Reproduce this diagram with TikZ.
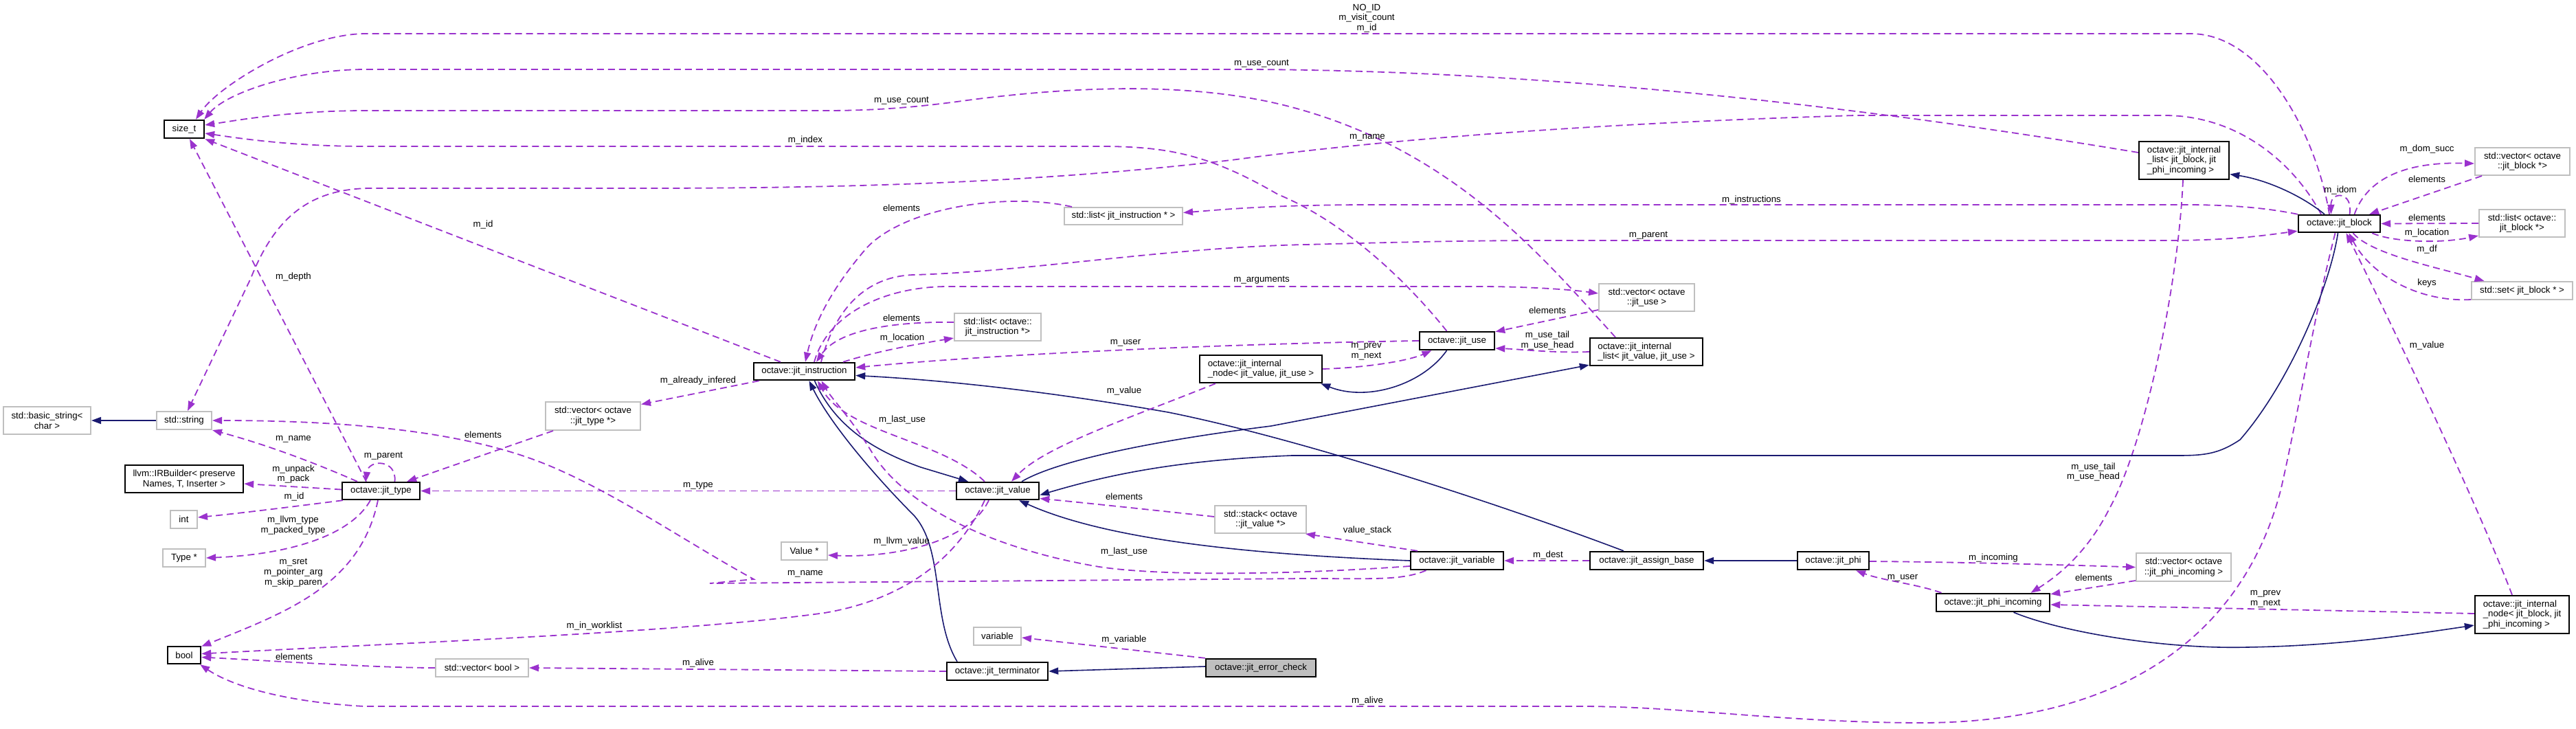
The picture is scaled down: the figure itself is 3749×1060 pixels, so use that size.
\documentclass[tikz,border=0pt]{standalone}
\usepackage{fontspec}
\setmainfont{Liberation Sans}
\usetikzlibrary{arrows.meta}
\definecolor{purp}{HTML}{9A32CD}
\definecolor{navyc}{HTML}{191970}
\definecolor{grayb}{HTML}{BFBFBF}
\newcommand{\dgfont}{\fontsize{13.3pt}{14.6pt}\selectfont}
\begin{document}
\begin{tikzpicture}[x=1pt,y=-1pt,
  bk/.style={draw=black, line width=2.4pt, fill=white, inner sep=0pt, align=center, font=\dgfont},
  gr/.style={bk, draw=grayb, line width=2pt},
  lbl/.style={inner sep=0pt, align=center, font=\dgfont},
  dep/.style={draw=purp, line width=1.8pt, dash pattern=on 10pt off 6pt, -{Triangle[length=14pt,width=10pt]}},
  inh/.style={draw=navyc, line width=1.6pt, -{Triangle[length=14pt,width=10pt]}}]
\useasboundingbox (0,0) rectangle (3749,1060);

% nodes
\node[bk,minimum width=58pt,minimum height=26pt] (sizet) at (268,188) {size\_t};
\node[gr,minimum width=127pt,minimum height=40pt] (bstr) at (68.5,612) {std::basic\_string<\\char >};
\node[gr,minimum width=80pt,minimum height=26pt] (str) at (268,612) {std::string};
\node[bk,minimum width=172pt,minimum height=40pt] (irb) at (268,697) {llvm::IRBuilder< preserve\\Names, T, Inserter >};
\node[gr,minimum width=138pt,minimum height=41pt] (vtype) at (863,605.5) {std::vector< octave\\::jit\_type *>};
\node[bk,minimum width=113pt,minimum height=25pt] (jtype) at (554.5,714.5) {octave::jit\_type};
\node[gr,minimum width=39pt,minimum height=26pt] (int) at (267.5,756) {int};
\node[gr,minimum width=62pt,minimum height=26pt] (typep) at (268,812) {Type *};
\node[bk,minimum width=48pt,minimum height=25pt] (bool) at (268,953.5) {bool};
\node[gr,minimum width=135pt,minimum height=26pt] (vbool) at (701.5,972) {std::vector< bool >};
\node[bk,minimum width=147pt,minimum height=25pt] (jinst) at (1170.5,540.5) {octave::jit\_instruction};
\node[gr,minimum width=126pt,minimum height=40pt] (loinst) at (1452,476) {std::list< octave::\\jit\_instruction *>};
\node[gr,minimum width=172pt,minimum height=25pt] (linst) at (1635,314.5) {std::list< jit\_instruction * >};
\node[bk,minimum width=120pt,minimum height=25pt] (jval) at (1452,714.5) {octave::jit\_value};
\node[bk,align=left,minimum width=178pt,minimum height=40pt] (nvu) at (1835,537) {octave::jit\_internal\\\_node< jit\_value, jit\_use >};
\node[gr,minimum width=139pt,minimum height=40pt] (vuse) at (2396.5,433) {std::vector< octave\\::jit\_use >};
\node[bk,minimum width=109pt,minimum height=26pt] (juse) at (2120.5,496) {octave::jit\_use};
\node[bk,align=left,minimum width=164pt,minimum height=40pt] (lvu) at (2396,512) {octave::jit\_internal\\\_list< jit\_value, jit\_use >};
\node[gr,minimum width=67pt,minimum height=26pt] (valp) at (1170.5,802) {Value *};
\node[gr,minimum width=133pt,minimum height=40pt] (stack) at (1834.5,756) {std::stack< octave\\::jit\_value *>};
\node[gr,minimum width=69pt,minimum height=26pt] (var) at (1451.5,926) {variable};
\node[bk,minimum width=147pt,minimum height=26pt] (term) at (1451.5,977) {octave::jit\_terminator};
\node[bk,fill=grayb,minimum width=160pt,minimum height=26pt] (echk) at (1835,972) {octave::jit\_error\_check};
\node[bk,minimum width=135pt,minimum height=26pt] (jvar) at (2120.5,816) {octave::jit\_variable};
\node[bk,minimum width=165pt,minimum height=26pt] (asg) at (2396.5,816) {octave::jit\_assign\_base};
\node[bk,minimum width=104pt,minimum height=26pt] (phi) at (2668,816) {octave::jit\_phi};
\node[gr,minimum width=138pt,minimum height=41pt] (vphi) at (3178,825.5) {std::vector< octave\\::jit\_phi\_incoming >};
\node[bk,minimum width=165pt,minimum height=26pt] (phin) at (2900.5,877) {octave::jit\_phi\_incoming};
\node[bk,align=left,minimum width=137pt,minimum height=55pt] (nbp) at (3670.5,894.5) {octave::jit\_internal\\\_node< jit\_block, jit\\\_phi\_incoming >};
\node[bk,align=left,minimum width=131pt,minimum height=55pt] (lbp) at (3178.5,233.5) {octave::jit\_internal\\\_list< jit\_block, jit\\\_phi\_incoming >};
\node[bk,minimum width=119pt,minimum height=25pt] (jblk) at (3404.5,325.5) {octave::jit\_block};
\node[gr,minimum width=138pt,minimum height=40pt] (vblk) at (3671,235) {std::vector< octave\\::jit\_block *>};
\node[gr,minimum width=125pt,minimum height=40pt] (lblk) at (3670.5,325) {std::list< octave::\\jit\_block *>};
\node[gr,minimum width=147pt,minimum height=26pt] (sblk) at (3670.5,423) {std::set< jit\_block * >};

% connectors
\draw[inh] (str.west) -- (bstr.east);
\draw[dep] ([xshift=-14.5pt]jblk.north) .. controls (3372,200) and (3295,49) .. (3188,49) -- (533,49) .. controls (440,49) and (318,125) .. ([xshift=17pt]sizet.north);
\draw[dep] ([yshift=11.5pt]lbp.west) .. controls (2800,170) and (2300,101) .. (1800,101) -- (533,101) .. controls (430,101) and (330,135) .. ([xshift=-1pt]sizet.north east);
\draw[dep] ([xshift=-45pt]lvu.north) .. controls (2250,380) and (2120,220) .. (1880,156) .. controls (1760,124) and (1600,120) .. (1400,147) .. controls (1320,158) and (1260,161) .. (1200,161) -- (533,161) .. controls (420,161) and (340,176) .. ([yshift=6pt]sizet.east);
\draw[dep] ([xshift=-15pt]juse.north) .. controls (2040,400) and (1950,320) .. (1860,283) .. controls (1760,225) and (1700,213) .. (1600,213) -- (533,213) .. controls (420,213) and (340,200) .. ([yshift=-6pt]sizet.east);
\draw[dep] ([xshift=-34.5pt]jinst.north) -- (sizet.south east);
\draw[dep] ([xshift=-21.5pt]jtype.north) -- ([xshift=8pt]sizet.south);
\draw[dep] ([xshift=-26.5pt]jblk.north) .. controls (3340,240) and (3260,168) .. (3150,168) -- (2700,168) .. controls (2300,180) and (2000,205) .. (1800,232) .. controls (1500,268) and (1200,274) .. (930,274) -- (540,274) .. controls (440,274) and (395,330) .. (365,405) -- ([xshift=5pt]str.north);
\draw[dep] ([xshift=-34.5pt]jtype.north) .. controls (450,670) and (380,645) .. (str.south east);
\draw[dep] ([xshift=20pt]jtype.north) .. controls (578,668) and (536,668) .. ([xshift=-22pt]jtype.north);
\draw[dep] ([yshift=2pt]jtype.west) -- ([yshift=-7pt]irb.east);
\draw[dep] ([xshift=2pt]jtype.south west) .. controls (430,737) and (340,748) .. ([yshift=3pt]int.east);
\draw[dep] ([xshift=-15.5pt]jtype.south) .. controls (510,780) and (420,807) .. (typep.east);
\draw[dep] ([xshift=-4.5pt]jtype.south) .. controls (525,850) and (420,890) .. ([yshift=-1pt]bool.north east);
\draw[dep] ([xshift=12pt]vtype.south west) -- ([xshift=-20pt]jtype.north east);
\draw[dep] (jval.west) -- (jtype.east);
\draw[dep] ([xshift=-45pt]jvar.south) .. controls (2040,845) and (2000,842) .. (1900,842) -- (1033,849) -- (1097,843) .. controls (1000,790) and (900,720) .. (800,678) .. controls (700,636) and (550,612) .. (str.east);
\draw[dep] ([xshift=9pt]jinst.south west) -- ([yshift=17pt]vtype.east);
\draw[dep] ([xshift=56.5pt]jinst.north) .. controls (1280,510) and (1340,500) .. ([yshift=-16pt]loinst.west);
\draw[dep] ([yshift=7pt]loinst.west) .. controls (1300,468) and (1220,480) .. ([xshift=17.5pt]jinst.north);
\draw[dep] ([xshift=12pt]linst.north west) .. controls (1470,280) and (1320,300) .. (1262,360) .. controls (1210,420) and (1185,470) .. ([xshift=1.5pt]jinst.north);
\draw[dep] (jblk.north west) .. controls (3300,303) and (3250,298) .. (3180,298) -- (2000,298) .. controls (1850,298) and (1780,305) .. ([yshift=5pt]linst.east);
\draw[dep] ([xshift=24.5pt]jinst.north) .. controls (1215,450) and (1260,402) .. (1330,400) .. controls (1500,395) and (1700,360) .. (1900,356) .. controls (2050,352) and (2150,350) .. (2250,350) -- (3150,350) .. controls (3250,350) and (3300,342) .. ([yshift=3pt]jblk.south west);
\draw[dep] ([xshift=14.5pt]jinst.north) .. controls (1205,455) and (1290,417) .. (1380,417) -- (2150,417) .. controls (2230,417) and (2290,422) .. ([yshift=6pt]vuse.west);
\draw[dep] (juse.west) .. controls (1800,500) and (1450,515) .. ([yshift=5.5pt]jinst.east);
\draw[dep] (nvu.east) .. controls (1990,535) and (2050,525) .. ([xshift=-37pt]juse.south);
\draw[inh] ([xshift=-15pt]juse.south) .. controls (2070,560) and (1990,585) .. ([xshift=-3pt]nvu.south east);
\draw[dep] ([yshift=3pt]vuse.south west) -- ([yshift=-1pt]juse.north east);
\draw[dep] (lvu.west) .. controls (2260,514) and (2210,508) .. ([yshift=-11pt]juse.east);
\draw[inh] ([xshift=35pt]jval.north) .. controls (1530,675) and (1650,645) .. (1850,620) -- ([yshift=2pt]lvu.south west);
\draw[inh] ([xshift=15pt]jinst.south) .. controls (1215,620) and (1270,655) .. (1340,680) -- ([xshift=-43pt]jval.north);
\draw[inh] ([xshift=-58.5pt]term.north) .. controls (1355,900) and (1375,800) .. (1330,750) .. controls (1280,700) and (1210,620) .. ([xshift=7pt]jinst.south);
\draw[inh] ([xshift=-33.5pt]asg.north) .. controls (2200,740) and (1900,640) .. (1700,600) .. controls (1500,565) and (1350,552) .. ([yshift=-6pt]jinst.east);
\draw[inh] (jvar.west) .. controls (1850,808) and (1620,790) .. ([xshift=31pt]jval.south);
\draw[dep] ([xshift=-19pt]jval.north) .. controls (1370,640) and (1230,630) .. ([xshift=19.5pt]jinst.south);
\draw[dep] ([yshift=-8pt]jvar.west) .. controls (1900,835) and (1700,840) .. (1600,825) .. controls (1450,800) and (1320,740) .. (1270,660) .. controls (1240,610) and (1210,580) .. ([xshift=25pt]jinst.south);
\draw[dep] ([xshift=-66pt]nvu.south) .. controls (1640,610) and (1520,650) .. ([xshift=20pt]jval.north);
\draw[dep] ([yshift=4pt]stack.west) .. controls (1657,740) and (1560,730) .. ([yshift=-11pt]jval.east);
\draw[dep] ([xshift=-57.5pt]jvar.north) -- ([xshift=-2pt]stack.south east);
\draw[dep] (asg.west) -- (jvar.east);
\draw[dep] ([xshift=-13pt]jval.south) .. controls (1410,790) and (1300,812) .. ([yshift=-6pt]valp.east);
\draw[dep] ([xshift=-19pt]jval.south) .. controls (1400,800) and (1330,870) .. (1200,892) .. controls (1000,920) and (600,935) .. ([yshift=2pt]bool.east);
\draw[dep] (vbool.west) .. controls (550,972) and (400,962) .. ([yshift=-3pt]bool.east);
\draw[dep] (term.west) -- (vbool.east);
\draw[dep] ([xshift=-6pt]jblk.south) .. controls (3370,450) and (3345,600) .. (3320,710) .. controls (3280,870) and (3150,1050) .. (2800,1052) .. controls (2600,1052) and (2450,1028) .. (2300,1028) -- (530,1028) .. controls (420,1022) and (340,1000) .. ([xshift=-2pt]bool.south east);
\draw[dep] (echk.north west) -- ([yshift=-2pt]var.east);
\draw[inh] ([yshift=2pt]echk.west) -- (term.east);
\draw[dep] ([xshift=-1.5pt]lbp.south) .. controls (3170,420) and (3120,650) .. (3070,740) .. controls (3040,800) and (3000,835) .. ([xshift=55pt]phin.north);
\draw[dep] ([yshift=-1pt]phi.east) .. controls (2850,818) and (3000,822) .. (vphi.west);
\draw[dep] ([yshift=2pt]vphi.south west) -- ([yshift=-2pt]phin.north east);
\draw[dep] ([xshift=-75pt]phin.north) .. controls (2790,850) and (2740,845) .. ([xshift=33pt]phi.south);
\draw[dep] ([yshift=1.5pt]nbp.west) -- ([yshift=-3pt]phin.east);
\draw[inh] ([xshift=30pt]phin.south) .. controls (3000,920) and (3150,945) .. (3270,942) .. controls (3400,940) and (3500,925) .. ([yshift=-15.5pt]nbp.west);
\draw[dep] ([xshift=-14.5pt]nbp.north) .. controls (3600,720) and (3470,450) .. ([xshift=10pt]jblk.south);
\draw[inh] ([xshift=-21.5pt]jblk.north) .. controls (3350,285) and (3300,262) .. ([yshift=-20pt]lbp.east);
\draw[inh] (phi.west) -- (asg.east);
\draw[inh] ([xshift=-2pt]jblk.south) .. controls (3390,420) and (3330,560) .. (3260,640) .. controls (3230,660) and (3210,663) .. (3170,663) -- (1880,663) .. controls (1700,670) and (1600,695) .. ([yshift=-6pt]jval.east);
\draw[dep] ([xshift=15pt]jblk.north) .. controls (3425,278) and (3392,278) .. ([xshift=-12pt]jblk.north);
\draw[dep] ([xshift=22pt]jblk.north) .. controls (3445,260) and (3500,235) .. ([yshift=-3pt]vblk.west);
\draw[dep] ([xshift=11pt]vblk.south west) -- ([xshift=-17pt]jblk.north east);
\draw[dep] (lblk.west) -- (jblk.east);
\draw[dep] ([xshift=-13pt]jblk.south east) .. controls (3480,352) and (3550,355) .. ([yshift=-18pt]lblk.west);
\draw[dep] ([xshift=20pt]jblk.south) .. controls (3450,370) and (3550,390) .. ([xshift=-55pt]sblk.north);
\draw[dep] ([yshift=-13pt]sblk.west) .. controls (3520,440) and (3450,400) .. ([xshift=14pt]jblk.south);

% labels
\node[lbl] (l1) at (1989,26.5) {NO\_ID\\m\_visit\_count\\m\_id};
\node[lbl] (l2) at (1836,93) {m\_use\_count};
\node[lbl] (l3) at (1312,147) {m\_use\_count};
\node[lbl] (l4) at (1172,204) {m\_index};
\node[lbl] (l5) at (703,327) {m\_id};
\node[lbl] (l6) at (427,403) {m\_depth};
\node[lbl] (l7) at (1990,200) {m\_name};
\node[lbl] (l8) at (1312,303) {elements};
\node[lbl] (l9) at (2549,291) {m\_instructions};
\node[lbl] (l10) at (2399,343) {m\_parent};
\node[lbl] (l11) at (1836,408) {m\_arguments};
\node[lbl] (l12) at (1312,463) {elements};
\node[lbl] (l13) at (1313,492) {m\_location};
\node[lbl] (l14) at (1638,499) {m\_user};
\node[lbl] (l15) at (1016,554) {m\_already\_infered};
\node[lbl] (l16) at (1636,569) {m\_value};
\node[lbl] (l17) at (1313,611) {m\_last\_use};
\node[lbl] (l18) at (1016,707) {m\_type};
\node[lbl] (l19) at (2252,452) {elements};
\node[lbl] (l20) at (2252,495.5) {m\_use\_tail\\m\_use\_head};
\node[lbl] (l21) at (1988.5,511.5) {m\_prev\\m\_next};
\node[lbl] (l22) at (427,639) {m\_name};
\node[lbl] (l23) at (558,664) {m\_parent};
\node[lbl] (l24) at (427,690) {m\_unpack\\m\_pack};
\node[lbl] (l25) at (703,633) {elements};
\node[lbl] (l26) at (428,723) {m\_id};
\node[lbl] (l27) at (426.5,764.5) {m\_llvm\_type\\m\_packed\_type};
\node[lbl] (l28) at (427,833.5) {m\_sret\\m\_pointer\_arg\\m\_skip\_paren};
\node[lbl] (l29) at (865,911) {m\_in\_worklist};
\node[lbl] (l30) at (428,956) {elements};
\node[lbl] (l31) at (1636,723) {elements};
\node[lbl] (l32) at (1312,788) {m\_llvm\_value};
\node[lbl] (l33) at (1636,803) {m\_last\_use};
\node[lbl] (l34) at (1172,835) {m\_name};
\node[lbl] (l35) at (1636,931) {m\_variable};
\node[lbl] (l36) at (1016,965) {m\_alive};
\node[lbl] (l37) at (1990,772) {value\_stack};
\node[lbl] (l38) at (2253,808) {m\_dest};
\node[lbl] (l39) at (2769,841) {m\_user};
\node[lbl] (l40) at (1990,1020) {m\_alive};
\node[lbl] (l41) at (2901,812) {m\_incoming};
\node[lbl] (l42) at (3047,841) {elements};
\node[lbl] (l43) at (3297,871.5) {m\_prev\\m\_next};
\node[lbl] (l44) at (3046.5,687) {m\_use\_tail\\m\_use\_head};
\node[lbl] (l45) at (3532,503) {m\_value};
\node[lbl] (l46) at (3532,412) {keys};
\node[lbl] (l47) at (3532,363) {m\_df};
\node[lbl] (l48) at (3532,339) {m\_location};
\node[lbl] (l49) at (3532,317) {elements};
\node[lbl] (l50) at (3406,277) {m\_idom};
\node[lbl] (l51) at (3532,261) {elements};
\node[lbl] (l52) at (3532,217) {m\_dom\_succ};
\end{tikzpicture}
\end{document}
